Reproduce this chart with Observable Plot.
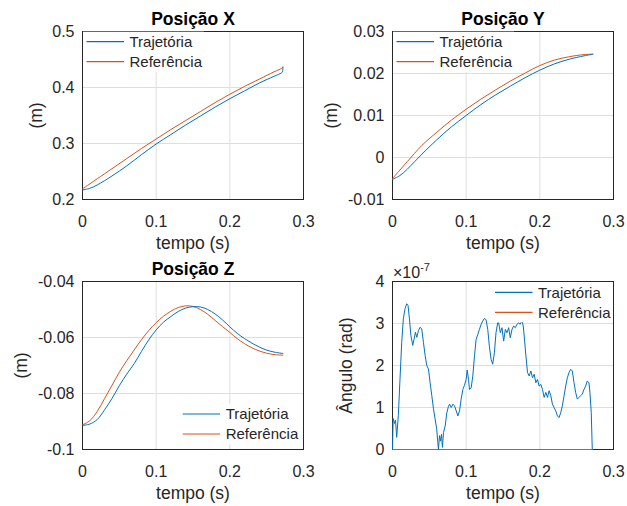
<!DOCTYPE html>
<html><head><meta charset="utf-8">
<script src="https://cdn.jsdelivr.net/npm/d3@7"></script>
<script src="https://cdn.jsdelivr.net/npm/@observablehq/plot@0.6"></script>
<style>
body{margin:0;background:#fff;}
#fig{position:relative;width:627px;height:506px;overflow:hidden;background:#fff;}
#fig svg{position:absolute;left:0;top:0;}
</style></head><body><div id="fig"></div>
<script>
// ---------- data ----------
const seriesNames = ["Trajetória", "Referência"];
const xLabel = "tempo (s)";
const xTicks = [0, 0.1, 0.2, 0.3];

// Posição X
const tX = [0, 0.01, 0.02, 0.04, 0.06, 0.08, 0.10, 0.12, 0.14, 0.16, 0.18, 0.20, 0.22, 0.24, 0.26, 0.27, 0.2715, 0.272];
const xTraj = [0.217, 0.220, 0.226, 0.242, 0.260, 0.280, 0.299, 0.316, 0.333, 0.349, 0.365, 0.380, 0.394, 0.408, 0.420, 0.426, 0.428, 0.436];
const xRef  = [0.219, 0.228, 0.237, 0.255, 0.273, 0.291, 0.308, 0.325, 0.341, 0.357, 0.373, 0.388, 0.402, 0.415, 0.428, 0.434, 0.4355, 0.437];
const xYTicks = [0.2, 0.3, 0.4, 0.5];

// Posição Y
const tY = [0, 0.01, 0.02, 0.03, 0.04, 0.06, 0.08, 0.10, 0.12, 0.14, 0.16, 0.18, 0.20, 0.22, 0.24, 0.26, 0.272];
const yTraj = [-0.0052, -0.0043, -0.0028, -0.0010, 0.0008, 0.0042, 0.0073, 0.0100, 0.0126, 0.0149, 0.0170, 0.0190, 0.0208, 0.0223, 0.0234, 0.0242, 0.0246];
const yRef  = [-0.0050, -0.0030, -0.0010, 0.0010, 0.0029, 0.0060, 0.0089, 0.0115, 0.0139, 0.0161, 0.0182, 0.0201, 0.0219, 0.0232, 0.0240, 0.0245, 0.0246];
const yYTicks = [-0.01, 0, 0.01, 0.02, 0.03];

// Posição Z
const tZ = [0, 0.01, 0.02, 0.03, 0.04, 0.05, 0.06, 0.07, 0.08, 0.09, 0.10, 0.11, 0.12, 0.13, 0.14, 0.15, 0.16, 0.17, 0.18, 0.19, 0.20, 0.21, 0.22, 0.23, 0.24, 0.25, 0.26, 0.272];
const zTraj = [-0.0914, -0.0909, -0.0893, -0.0858, -0.0818, -0.0772, -0.0731, -0.0694, -0.0650, -0.0608, -0.0573, -0.0545, -0.0525, -0.0507, -0.0495, -0.0490, -0.0491, -0.0500, -0.0516, -0.0537, -0.0562, -0.0585, -0.0604, -0.0620, -0.0634, -0.0645, -0.0652, -0.0657];
const zRef  = [-0.0912, -0.0897, -0.0864, -0.0818, -0.0771, -0.0724, -0.0683, -0.0645, -0.0608, -0.0575, -0.0547, -0.0524, -0.0506, -0.0493, -0.0487, -0.0489, -0.0500, -0.0517, -0.0539, -0.0561, -0.0582, -0.0604, -0.0622, -0.0637, -0.0648, -0.0656, -0.0661, -0.0663];
const zYTicks = [-0.1, -0.08, -0.06, -0.04];

// Ângulo (values in units of 10^-7 rad)
const angleExponent = -7;
const tA = [0, 0.0009, 0.0027, 0.0041, 0.0057, 0.0079, 0.0102, 0.0125, 0.0147, 0.0170, 0.0193, 0.0211, 0.0230, 0.0250, 0.0275, 0.0293, 0.0311, 0.0330, 0.0352, 0.0375, 0.0397, 0.0420, 0.0443, 0.0465, 0.0488, 0.0510, 0.0533, 0.0556, 0.0578, 0.0600, 0.0615, 0.0624, 0.0638, 0.0651, 0.0665, 0.0678, 0.0692, 0.0715, 0.0737, 0.0760, 0.0775, 0.0797, 0.0820, 0.0842, 0.0865, 0.0887, 0.0910, 0.0932, 0.0955, 0.0977, 0.1000, 0.1014, 0.1032, 0.1045, 0.1068, 0.1090, 0.1113, 0.1135, 0.1158, 0.1180, 0.1203, 0.1225, 0.1248, 0.1270, 0.1293, 0.1315, 0.1338, 0.1360, 0.1383, 0.1405, 0.1428, 0.1441, 0.1464, 0.1486, 0.1509, 0.1532, 0.1554, 0.1577, 0.1599, 0.1622, 0.1644, 0.1667, 0.1689, 0.1712, 0.1730, 0.1757, 0.1775, 0.1788, 0.1811, 0.1833, 0.1856, 0.1878, 0.1901, 0.1923, 0.1946, 0.1968, 0.1991, 0.2014, 0.2036, 0.2059, 0.2081, 0.2104, 0.2126, 0.2149, 0.2171, 0.2194, 0.2216, 0.2239, 0.2261, 0.2284, 0.2306, 0.2329, 0.2351, 0.2374, 0.2396, 0.2419, 0.2441, 0.2464, 0.2486, 0.2509, 0.2532, 0.2554, 0.2577, 0.2599, 0.2622, 0.2644, 0.2667, 0.2680, 0.2698, 0.2712];
const aTraj = [0, 0.74, 0.62, 0.70, 0.29, 0.81, 1.68, 2.55, 3.11, 3.35, 3.47, 3.43, 3.11, 2.71, 2.48, 2.63, 2.79, 2.67, 2.83, 2.91, 2.87, 2.55, 2.24, 2.00, 1.92, 1.60, 1.29, 0.97, 0.73, 0.49, 0.17, 0.00, 0.33, 0.20, 0.36, 0.05, 0.40, 0.56, 0.87, 1.03, 1.08, 1.00, 1.08, 1.04, 0.92, 0.80, 0.92, 1.20, 1.43, 1.53, 1.67, 1.89, 1.67, 1.43, 1.47, 1.75, 2.23, 2.62, 2.74, 2.86, 2.98, 3.06, 3.12, 3.09, 2.86, 2.46, 2.15, 2.03, 2.30, 2.78, 3.02, 3.02, 2.78, 2.90, 2.58, 2.86, 2.78, 2.90, 2.66, 2.86, 2.94, 2.90, 2.98, 3.02, 2.98, 3.06, 2.94, 2.70, 2.23, 1.83, 1.75, 1.87, 1.71, 1.79, 1.59, 1.67, 1.51, 1.55, 1.43, 1.24, 1.36, 1.24, 1.40, 1.28, 1.08, 1.00, 0.92, 0.80, 0.76, 0.88, 1.04, 1.28, 1.51, 1.71, 1.83, 1.91, 1.87, 1.59, 1.36, 1.20, 1.24, 1.28, 1.32, 1.43, 1.51, 1.63, 1.59, 1.36, 0.88, 0.00];
const tARef = [0, 0.272];
const aRef = [0, 0];
const aYTicks = [0, 1, 2, 3, 4];

// ---------- style ----------
const FONT = "'Liberation Sans', Arial, Helvetica, sans-serif";
const INK = "#262626";
const BLUE = "#0072BD", ORANGE = "#D95319";
const GRID = "#dedede";

function legendMark(corner, ox, oy) {
  return (index, scales, values, dim) => {
    const fl = dim.marginLeft, fr = dim.width - dim.marginRight;
    const ft = dim.marginTop, fb = dim.height - dim.marginBottom;
    const W = 121, H = 40;
    const x0 = corner.includes("left") ? fl + ox : fr - ox - W;
    const y0 = corner.includes("top") ? ft + oy : fb - oy - H;
    const g = d3.create("svg:g");
    g.append("rect").attr("x", x0).attr("y", y0).attr("width", W).attr("height", H).attr("fill", "#fff");
    [[seriesNames[0], BLUE], [seriesNames[1], ORANGE]].forEach(([name, color], i) => {
      const yy = y0 + 10 + 20 * i;
      g.append("line").attr("x1", x0 + 3.5).attr("x2", x0 + 41).attr("y1", yy).attr("y2", yy)
        .attr("stroke", color).attr("stroke-width", 1.2);
      g.append("text").attr("x", x0 + 46.5).attr("y", yy + 5.3).attr("fill", INK)
        .attr("text-anchor", "start")
        .attr("font-size", 15).attr("font-family", FONT).text(name);
    });
    return g.node();
  };
}

function exponentMark(exp) {
  return (index, scales, values, dim) => {
    const t = d3.create("svg:text").attr("x", dim.marginLeft + 1).attr("y", dim.marginTop - 3)
      .attr("text-anchor", "start")
      .attr("fill", INK).attr("font-size", 16).attr("font-family", FONT);
    t.append("tspan").text("×10");
    t.append("tspan").attr("font-size", 11).attr("dy", -7).text(String(exp));
    return t.node();
  };
}

function panel(o) {
  const traj = o.tTraj.map((t, i) => ({t, v: o.traj[i]}));
  const ref = o.tRef.map((t, i) => ({t, v: o.ref[i]}));
  const marks = [
    Plot.gridX(xTicks, {stroke: GRID, strokeOpacity: 1}),
    Plot.gridY(o.yTicks, {stroke: GRID, strokeOpacity: 1}),
    Plot.frame({stroke: INK, strokeWidth: 1}),
    Plot.line(ref, {x: "t", y: "v", stroke: ORANGE, strokeWidth: 1, curve: o.curve}),
    Plot.line(traj, {x: "t", y: "v", stroke: BLUE, strokeWidth: 1, curve: o.curve}),
    legendMark(o.legend[0], o.legend[1], o.legend[2]),
    Plot.axisX(xTicks, {tickSize: 0, tickPadding: 16, tickFormat: d => String(d), fontSize: 16, label: null}),
    Plot.axisY(o.yTicks, {tickSize: 0, tickPadding: 8, tickFormat: d => String(d), fontSize: 16, label: null}),
    Plot.text([o.title], {text: d => d, frameAnchor: "top", textAnchor: "middle", lineAnchor: "bottom", dy: -6.5, fontSize: 17.5, fontWeight: "bold", fill: "#000"}),
    Plot.text([xLabel], {text: d => d, frameAnchor: "bottom", textAnchor: "middle", lineAnchor: "bottom", dy: 49, fontSize: 17.5, fill: INK}),
    Plot.text([o.ylabel], {text: d => d, frameAnchor: "left", textAnchor: "middle", lineAnchor: "bottom", rotate: -90, dx: o.ylabelDx, fontSize: 17.5, fill: INK})
  ];
  if (o.exponent != null) marks.push(exponentMark(o.exponent));
  return Plot.plot({
    width: 627, height: 506,
    marginLeft: o.m[0], marginRight: o.m[1], marginTop: o.m[2], marginBottom: o.m[3],
    x: {domain: [0, 0.3]},
    y: {domain: o.yDomain},
    style: {background: "transparent", fontFamily: FONT, color: INK, overflow: "visible"},
    marks
  });
}

const fig = document.getElementById("fig");
fig.append(panel({title: "Posição X", ylabel: "(m)", ylabelDx: -41, tTraj: tX, traj: xTraj, tRef: tX, ref: xRef,
  yDomain: [0.2, 0.5], yTicks: xYTicks, m: [82, 324, 31, 307], legend: ["top-left", 1, 0.7], curve: "catmull-rom"}));
fig.append(panel({title: "Posição Y", ylabel: "(m)", ylabelDx: -56, tTraj: tY, traj: yTraj, tRef: tY, ref: yRef,
  yDomain: [-0.01, 0.03], yTicks: yYTicks, m: [392, 14, 31, 307], legend: ["top-left", 1, 0.7], curve: "catmull-rom"}));
fig.append(panel({title: "Posição Z", ylabel: "(m)", ylabelDx: -56, tTraj: tZ, traj: zTraj, tRef: tZ, ref: zRef,
  yDomain: [-0.1, -0.04], yTicks: zYTicks, m: [82, 324, 281, 57], legend: ["bottom-right", 2.8, 5], curve: "catmull-rom"}));
fig.append(panel({title: "", ylabel: "Ângulo (rad)", ylabelDx: -40.5, tTraj: tA, traj: aTraj, tRef: tARef, ref: aRef,
  yDomain: [0, 4], yTicks: aYTicks, m: [392, 14, 281, 57], legend: ["top-right", 0.5, 1.3], curve: "linear", exponent: angleExponent}));
</script></body></html>
